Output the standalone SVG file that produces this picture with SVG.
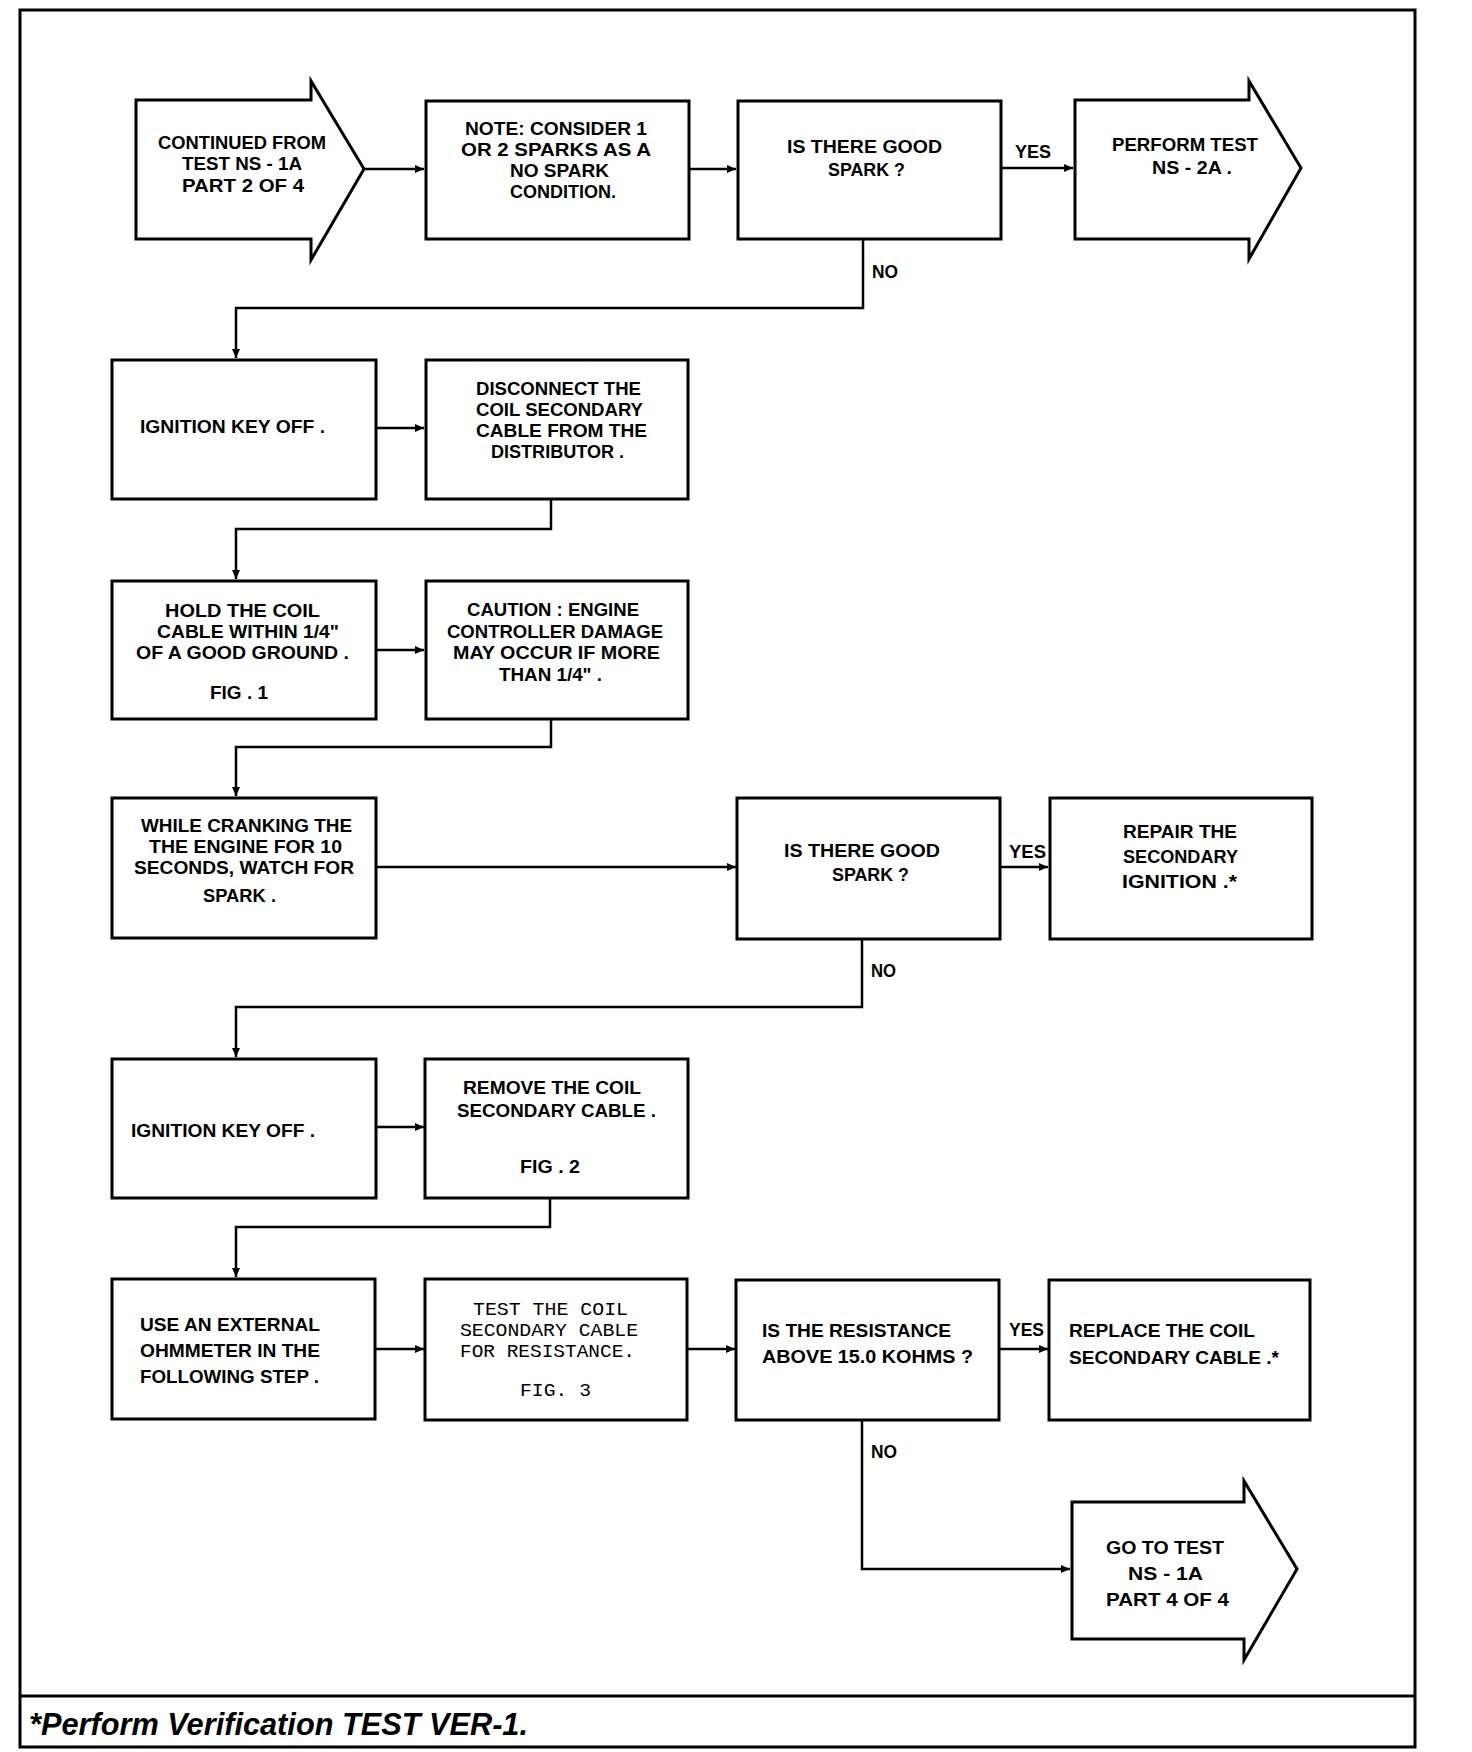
<svg xmlns="http://www.w3.org/2000/svg" width="1472" height="1752" viewBox="0 0 1472 1752">
<style>
.box{fill:#fff;stroke:#000;stroke-width:3}
.conn{fill:none;stroke:#000;stroke-width:2.5}
.t{font-family:"Liberation Sans",Arial,sans-serif;font-weight:bold;font-size:18.6px;fill:#000}
.m{font-family:"Liberation Mono","DejaVu Sans Mono",monospace;font-size:18.4px;fill:#000}
.f{font-family:"Liberation Sans",Arial,sans-serif;font-weight:bold;font-style:italic;font-size:31px;fill:#000}
</style>
<defs>
<marker id="ah" markerWidth="10" markerHeight="10" refX="9" refY="5" orient="auto" markerUnits="userSpaceOnUse"><path d="M0,1 L9,5 L0,9 Z" fill="#000"/></marker>
</defs>
<rect width="1472" height="1752" fill="#fff"/>
<g id="frame">
<rect x="20" y="10" width="1395" height="1737" fill="none" stroke="#000" stroke-width="3"/>
<line x1="20" y1="1696" x2="1414" y2="1696" stroke="#000" stroke-width="3"/>
<text class="f" x="29" y="1735" textLength="499" lengthAdjust="spacingAndGlyphs">*Perform Verification TEST VER-1.</text>
</g>
<g id="connectors">
<path class="conn" d="M364,169 L424,169" marker-end="url(#ah)"/>
<path class="conn" d="M689,169 L736,169" marker-end="url(#ah)"/>
<path class="conn" d="M1001,168 L1073,168" marker-end="url(#ah)"/>
<path class="conn" d="M863,239 L863,308 L236,308 L236,358" marker-end="url(#ah)"/>
<path class="conn" d="M376,428 L424,428" marker-end="url(#ah)"/>
<path class="conn" d="M551,499 L551,529 L236,529 L236,579" marker-end="url(#ah)"/>
<path class="conn" d="M376,650 L424,650" marker-end="url(#ah)"/>
<path class="conn" d="M551,719 L551,747 L236,747 L236,796" marker-end="url(#ah)"/>
<path class="conn" d="M376,867 L736,867" marker-end="url(#ah)"/>
<path class="conn" d="M1000,867 L1048,867" marker-end="url(#ah)"/>
<path class="conn" d="M862,939 L862,1007 L236,1007 L236,1057" marker-end="url(#ah)"/>
<path class="conn" d="M376,1127 L424,1127" marker-end="url(#ah)"/>
<path class="conn" d="M550,1198 L550,1227 L236,1227 L236,1277" marker-end="url(#ah)"/>
<path class="conn" d="M375,1349 L424,1349" marker-end="url(#ah)"/>
<path class="conn" d="M687,1349 L735,1349" marker-end="url(#ah)"/>
<path class="conn" d="M999,1349 L1048,1349" marker-end="url(#ah)"/>
<path class="conn" d="M862,1420 L862,1569 L1070,1569" marker-end="url(#ah)"/>
<text class="t" x="1015" y="158" textLength="36" lengthAdjust="spacingAndGlyphs">YES</text>
<text class="t" x="872" y="278" textLength="26" lengthAdjust="spacingAndGlyphs">NO</text>
<text class="t" x="1009" y="858" textLength="37" lengthAdjust="spacingAndGlyphs">YES</text>
<text class="t" x="871" y="977" textLength="25" lengthAdjust="spacingAndGlyphs">NO</text>
<text class="t" x="1009" y="1336" textLength="35" lengthAdjust="spacingAndGlyphs">YES</text>
<text class="t" x="871" y="1458" textLength="26" lengthAdjust="spacingAndGlyphs">NO</text>
</g>
<g id="start">
<path class="box" d="M136,100 L311,100 L311,81 L364,169 L311,260 L311,239 L136,239 Z"/>
<text class="t" x="158" y="149" textLength="168" lengthAdjust="spacingAndGlyphs">CONTINUED FROM</text>
<text class="t" x="182" y="170" textLength="120" lengthAdjust="spacingAndGlyphs">TEST NS - 1A</text>
<text class="t" x="182" y="192" textLength="122" lengthAdjust="spacingAndGlyphs">PART 2 OF 4</text>
</g>
<g id="note">
<rect class="box" x="426" y="101" width="263" height="138"/>
<text class="t" x="465" y="135" textLength="182" lengthAdjust="spacingAndGlyphs">NOTE: CONSIDER 1</text>
<text class="t" x="461" y="156" textLength="190" lengthAdjust="spacingAndGlyphs">OR 2 SPARKS AS A</text>
<text class="t" x="510" y="177" textLength="99" lengthAdjust="spacingAndGlyphs">NO SPARK</text>
<text class="t" x="510" y="198" textLength="106" lengthAdjust="spacingAndGlyphs">CONDITION.</text>
</g>
<g id="decision1">
<rect class="box" x="738" y="101" width="263" height="138"/>
<text class="t" x="787" y="153" textLength="155" lengthAdjust="spacingAndGlyphs">IS THERE GOOD</text>
<text class="t" x="828" y="176" textLength="77" lengthAdjust="spacingAndGlyphs">SPARK ?</text>
</g>
<g id="perform">
<path class="box" d="M1075,100 L1249,100 L1249,81 L1301,168 L1249,259 L1249,239 L1075,239 Z"/>
<text class="t" x="1112" y="151" textLength="146" lengthAdjust="spacingAndGlyphs">PERFORM TEST</text>
<text class="t" x="1152" y="174" textLength="80" lengthAdjust="spacingAndGlyphs">NS - 2A .</text>
</g>
<g id="ignition1">
<rect class="box" x="112" y="360" width="264" height="139"/>
<text class="t" x="140" y="433" textLength="185" lengthAdjust="spacingAndGlyphs">IGNITION KEY OFF .</text>
</g>
<g id="disconnect">
<rect class="box" x="426" y="360" width="262" height="139"/>
<text class="t" x="476" y="395" textLength="165" lengthAdjust="spacingAndGlyphs">DISCONNECT THE</text>
<text class="t" x="476" y="416" textLength="167" lengthAdjust="spacingAndGlyphs">COIL SECONDARY</text>
<text class="t" x="476" y="437" textLength="171" lengthAdjust="spacingAndGlyphs">CABLE FROM THE</text>
<text class="t" x="491" y="458" textLength="133" lengthAdjust="spacingAndGlyphs">DISTRIBUTOR .</text>
</g>
<g id="hold">
<rect class="box" x="112" y="581" width="264" height="138"/>
<text class="t" x="165" y="617" textLength="155" lengthAdjust="spacingAndGlyphs">HOLD THE  COIL</text>
<text class="t" x="157" y="638" textLength="182" lengthAdjust="spacingAndGlyphs">CABLE WITHIN 1/4"</text>
<text class="t" x="136" y="659" textLength="213" lengthAdjust="spacingAndGlyphs">OF A GOOD GROUND .</text>
<text class="t" x="210" y="699" textLength="58" lengthAdjust="spacingAndGlyphs">FIG . 1</text>
</g>
<g id="caution">
<rect class="box" x="426" y="581" width="262" height="138"/>
<text class="t" x="467" y="616" textLength="172" lengthAdjust="spacingAndGlyphs">CAUTION : ENGINE</text>
<text class="t" x="447" y="638" textLength="216" lengthAdjust="spacingAndGlyphs">CONTROLLER DAMAGE</text>
<text class="t" x="453" y="659" textLength="207" lengthAdjust="spacingAndGlyphs">MAY OCCUR IF MORE</text>
<text class="t" x="499" y="681" textLength="103" lengthAdjust="spacingAndGlyphs">THAN 1/4" .</text>
</g>
<g id="cranking">
<rect class="box" x="112" y="798" width="264" height="140"/>
<text class="t" x="141" y="832" textLength="211" lengthAdjust="spacingAndGlyphs">WHILE CRANKING THE</text>
<text class="t" x="149" y="853" textLength="193" lengthAdjust="spacingAndGlyphs">THE ENGINE FOR 10</text>
<text class="t" x="134" y="874" textLength="220" lengthAdjust="spacingAndGlyphs">SECONDS, WATCH FOR</text>
<text class="t" x="203" y="902" textLength="73" lengthAdjust="spacingAndGlyphs">SPARK .</text>
</g>
<g id="decision2">
<rect class="box" x="737" y="798" width="263" height="141"/>
<text class="t" x="784" y="857" textLength="156" lengthAdjust="spacingAndGlyphs">IS THERE GOOD</text>
<text class="t" x="832" y="881" textLength="77" lengthAdjust="spacingAndGlyphs">SPARK ?</text>
</g>
<g id="repair">
<rect class="box" x="1050" y="798" width="262" height="141"/>
<text class="t" x="1123" y="838" textLength="114" lengthAdjust="spacingAndGlyphs">REPAIR THE</text>
<text class="t" x="1123" y="863" textLength="115" lengthAdjust="spacingAndGlyphs">SECONDARY</text>
<text class="t" x="1122" y="888" textLength="115" lengthAdjust="spacingAndGlyphs">IGNITION .*</text>
</g>
<g id="ignition2">
<rect class="box" x="112" y="1059" width="264" height="139"/>
<text class="t" x="131" y="1137" textLength="184" lengthAdjust="spacingAndGlyphs">IGNITION KEY OFF .</text>
</g>
<g id="remove">
<rect class="box" x="425" y="1059" width="263" height="139"/>
<text class="t" x="463" y="1094" textLength="178" lengthAdjust="spacingAndGlyphs">REMOVE THE COIL</text>
<text class="t" x="457" y="1117" textLength="199" lengthAdjust="spacingAndGlyphs">SECONDARY CABLE .</text>
<text class="t" x="520" y="1173" textLength="60" lengthAdjust="spacingAndGlyphs">FIG . 2</text>
</g>
<g id="ohmmeter">
<rect class="box" x="112" y="1279" width="263" height="140"/>
<text class="t" x="140" y="1331" textLength="180" lengthAdjust="spacingAndGlyphs">USE AN EXTERNAL</text>
<text class="t" x="140" y="1357" textLength="180" lengthAdjust="spacingAndGlyphs">OHMMETER IN THE</text>
<text class="t" x="140" y="1383" textLength="179" lengthAdjust="spacingAndGlyphs">FOLLOWING STEP .</text>
</g>
<g id="testcable">
<rect class="box" x="425" y="1279" width="262" height="141"/>
<text class="m" x="473" y="1315" textLength="155" lengthAdjust="spacingAndGlyphs">TEST THE COIL</text>
<text class="m" x="460" y="1336" textLength="178" lengthAdjust="spacingAndGlyphs">SECONDARY CABLE</text>
<text class="m" x="460" y="1357" textLength="175" lengthAdjust="spacingAndGlyphs">FOR RESISTANCE.</text>
<text class="m" x="520" y="1396" textLength="71" lengthAdjust="spacingAndGlyphs">FIG. 3</text>
</g>
<g id="decision3">
<rect class="box" x="736" y="1280" width="263" height="140"/>
<text class="t" x="762" y="1337" textLength="189" lengthAdjust="spacingAndGlyphs">IS THE RESISTANCE</text>
<text class="t" x="762" y="1363" textLength="211" lengthAdjust="spacingAndGlyphs">ABOVE 15.0 KOHMS ?</text>
</g>
<g id="replace">
<rect class="box" x="1049" y="1280" width="261" height="140"/>
<text class="t" x="1069" y="1337" textLength="186" lengthAdjust="spacingAndGlyphs">REPLACE THE COIL</text>
<text class="t" x="1069" y="1364" textLength="210" lengthAdjust="spacingAndGlyphs">SECONDARY CABLE .*</text>
</g>
<g id="goto">
<path class="box" d="M1072,1502 L1244,1502 L1244,1481 L1297,1569 L1244,1660 L1244,1639 L1072,1639 Z"/>
<text class="t" x="1106" y="1554" textLength="118" lengthAdjust="spacingAndGlyphs">GO TO TEST</text>
<text class="t" x="1128" y="1580" textLength="75" lengthAdjust="spacingAndGlyphs">NS - 1A</text>
<text class="t" x="1106" y="1606" textLength="123" lengthAdjust="spacingAndGlyphs">PART 4 OF 4</text>
</g>
</svg>
